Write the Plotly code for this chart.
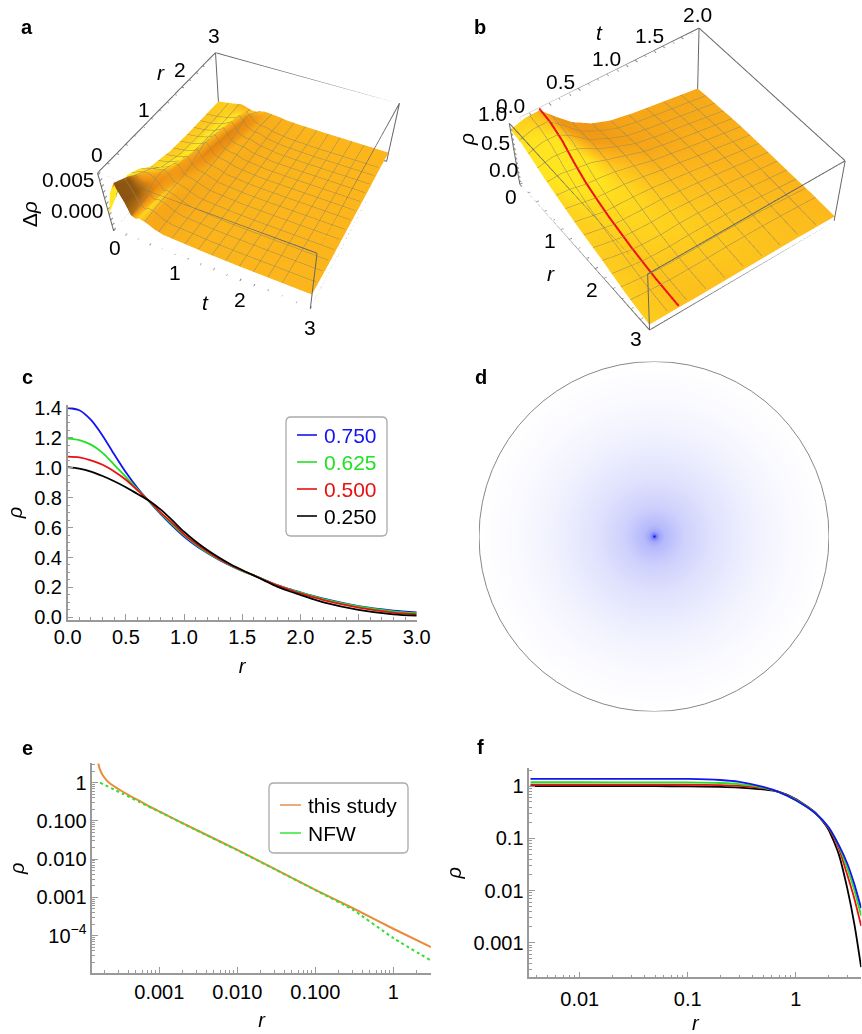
import numpy as np
import plotly.graph_objects as go

W, H = 862, 1034
FONT = "Liberation Sans"
TICK = 20
AXC = "#9a9a9a"

# ---- panel a (x=t, y=r); each row's t positions follow the groove g(r)
a_r = [0, .25, .5, .75, 1, 1.5, 2, 2.5, 3]
a_g = [.42, .44, .46, .5, .54, .62, .7, .77, .82]
a_z = [
 [-.9, 3.6, 5.6, 4.8, 2.6, .6, .3, .6, .3, -.4, -.8, -1.1, -1.2, -1.2],
 [.8, 3.6, 4.6, 4.2, 2.4, .9, .3, .7, .4, -.4, -.8, -1.2, -1.3, -1.3],
 [1.9, 2.7, 3.0, 2.9, 2.2, 1.2, .3, .6, .3, -.4, -.9, -1.3, -1.4, -1.5],
 [1.0, 1.6, 1.9, 2.0, 2.0, 1.5, .4, .4, .1, -.5, -1.0, -1.4, -1.5, -1.6],
 [-.6, -.1, .5, .9, 1.7, 1.7, .5, .1, -.1, -.6, -1.1, -1.5, -1.6, -1.7],
 [-1.6, -1.3, -.9, -.2, 1.0, 1.6, .6, -.3, -.6, -.8, -1.3, -1.7, -1.8, -1.9],
 [-2.0, -1.7, -1.2, -.4, .8, 1.5, .6, -.4, -.8, -.9, -1.4, -1.9, -2.0, -2.1],
 [-2.2, -2.0, -1.5, -.6, .4, 1.0, .4, -.5, -1.0, -1.1, -1.6, -2.0, -2.2, -2.2],
 [-2.4, -2.0, -1.6, -2.2, -2.1, -1.9, -1.7, -1.7, -1.8, -1.9, -2.1, -2.2, -2.3, -2.4],
]
a_z = [[v * 1e-3 for v in row] for row in a_z]
a_zrange = [-.0041, .0063]


def a_row_t(g):
    return [0, .3 * g, .55 * g, g - .18, g - .09, g - .03, g + .04, g + .1, g + .2, g + .32, g + .45, 1.5, 2, 3]


# ---- panel b (x=r, y=t)
b_t = [0, .15, .3, .45, .6, .8, 1, 1.25, 1.5, 2]
b_r = [0, .25, .5, .75, 1, 1.25, 1.5, 2, 2.5, 3]
b_z = [
 [.87, .95, .96, .68, .42, .19, .05, -.04, -.105, -.235],
 [.83, .91, .91, .675, .415, .22, .08, -.01, -.08, -.21],
 [.71, .79, .78, .64, .43, .25, .10, .01, -.05, -.20],
 [.58, .61, .56, .51, .39, .26, .13, .04, -.04, -.18],
 [.48, .45, .38, .36, .32, .23, .13, .05, -.03, -.17],
 [.38, .32, .26, .24, .23, .18, .12, .05, -.03, -.17],
 [.285, .22, .155, .15, .14, .13, .08, .025, -.04, -.17],
 [.13, .06, 0, -.02, -.03, -.01, -.01, -.04, -.08, -.18],
 [-.05, -.08, -.11, -.13, -.13, -.13, -.12, -.12, -.13, -.18],
 [-.17, -.17, -.17, -.18, -.18, -.18, -.18, -.18, -.18, -.20],
]
b_zrange = [-.3, 1.0]
b_red_t = 0.3

# ---- panel c
c_r = [0, .1, .2, .3, .4, .5, .6, .7, .8, .9, 1, 1.1, 1.2, 1.3, 1.4, 1.5, 1.6, 1.7, 1.8, 1.9, 2, 2.1, 2.2, 2.5, 2.8, 3]
c_names = ["0.750", "0.625", "0.500", "0.250"]
c_colors = ["#1414f0", "#22e022", "#e81010", "#000000"]
c_blue = [1.40, 1.385, 1.32, 1.215, 1.09, .97, .865, .775, .69, .612, .54, .48, .43, .385, .345, .31, .28, .247, .215, .19, .167, .145, .125, .075, .045, .033]
c_green = [1.195, 1.185, 1.155, 1.10, 1.02, .94, .855, .775, .695, .62, .548, .487, .433, .388, .347, .311, .28, .247, .215, .189, .165, .143, .122, .073, .04, .027]
c_red = [1.075, 1.07, 1.05, 1.02, .975, .92, .85, .778, .70, .63, .555, .494, .44, .392, .35, .313, .28, .246, .213, .186, .16, .137, .115, .065, .032, .02]
c_black = [1.005, .995, .975, .945, .91, .87, .825, .78, .72, .648, .572, .507, .45, .40, .355, .316, .28, .242, .205, .176, .15, .124, .10, .05, .02, .011]
c_series = [c_blue, c_green, c_red, c_black]

# ---- panel e
e_names = ["this study", "NFW"]
e_study_r = [1.65e-4, 1.74e-4, 1.91e-4, 2.33e-4, 3.13e-4, 4.2e-4, 5.66e-4, 7.6e-4, 1e-3, 1.37e-3, 3e-3, 1e-2, .03, .1, .3, 1, 3.04]
e_study = [3.2, 2.15, 1.5, .95, .645, .455, .33, .235, .177, .128, .058, .0175, .0056, .00158, 5.3e-4, 1.52e-4, 5.06e-5]
e_nfw_r = [1.74e-4, 3.45e-4, 5.66e-4, 1.12e-3, 3e-3, 1e-2, .03, .1, .3, 1, 3.04]
e_nfw = [1.0, .507, .307, .155, .057, .0172, .0055, .00156, 4.8e-4, 8.7e-5, 2.24e-5]

# ---- panel f
f_r = [.0035, .01, .05, .1, .2, .3, .5, .7, 1, 1.5, 2, 2.5, 3, 3.5, 4.03]
f_blue = [1.39, 1.39, 1.39, 1.385, 1.32, 1.215, .97, .775, .54, .31, .167, .075, .033, .013, .0046]
f_green = [1.195, 1.195, 1.19, 1.185, 1.155, 1.10, .94, .775, .548, .31, .165, .073, .027, .010, .0033]
f_red = [1.075, 1.075, 1.075, 1.07, 1.05, 1.02, .92, .778, .555, .315, .16, .065, .02, .0068, .0021]
f_black = [1.005, 1.005, 1.005, .995, .975, .945, .87, .78, .572, .32, .15, .05, .011, .0022, .00034]
f_series = [f_black, f_red, f_green, f_blue]
f_colors = ["#000000", "#e81010", "#22e022", "#1414f0"]

# ---- panel d: radial profile of the disc
d_rad = [0, .006, .012, .03, .06, .17, .34, .57, .8, 1]
d_val = [1, .8, .55, .38, .3, .2, .125, .06, .02, 0]


def fx(px):
    return px / W


def fy(px):
    return 1 - px / H


def dom_x(a, b):
    return [fx(a), fx(b)]


def dom_y(top, bottom):
    return [fy(bottom), fy(top)]


def cam(ex, ey, ez, cx, cy, cz):
    return dict(eye=dict(x=ex, y=ey, z=ez), center=dict(x=cx, y=cy, z=cz),
                up=dict(x=0, y=0, z=1), projection=dict(type="perspective"))


def box_edges(xr, yr, zr):
    xs, ys, zs = [], [], []
    for a in xr:
        for b in yr:
            xs += [a, a, None]; ys += [b, b, None]; zs += [zr[0], zr[1], None]
    for a in xr:
        for c in zr:
            xs += [a, a, None]; ys += [yr[0], yr[1], None]; zs += [c, c, None]
    for b in yr:
        for c in zr:
            xs += [xr[0], xr[1], None]; ys += [b, b, None]; zs += [c, c, None]
    return xs, ys, zs


def tick_segs(vals, base, axis, direction, length):
    xs, ys, zs = [], [], []
    for v in vals:
        p = list(base)
        p[axis] = v
        q = list(p)
        q[direction[0]] = p[direction[0]] + length
        xs += [p[0], q[0], None]; ys += [p[1], q[1], None]; zs += [p[2], q[2], None]
    return xs, ys, zs


def steps(lo, hi, d):
    n = int(round((hi - lo) / d))
    return [lo + i * d for i in range(n + 1)]


shade_cs = [[0, "#8a5410"], [.25, "#ee9012"], [.5, "#fcb71c"], [.75, "#ffe31f"], [1, "#ffe81f"]]
mesh = "#9a8a5a"
A_ASP = (1, 1.0349, .3668)
B_ASP = (1, .9986, .3626)
OFF = dict(ambient=1, diffuse=0, specular=0, roughness=1, fresnel=0)

fig = go.Figure()

# a: surface on a sheared grid, colour index from the slope in box units
a_x2d = np.array([a_row_t(g) for g in a_g])
a_y2d = np.array([[r] * a_x2d.shape[1] for r in a_r])
az = np.array(a_z)
zb = (az - a_zrange[0]) / (a_zrange[1] - a_zrange[0]) * A_ASP[2]
dzdt = np.array([np.gradient(zb[i], a_x2d[i] / 3) for i in range(len(a_r))])
dzdr = np.gradient(zb, np.array(a_r) / 3, axis=0) - dzdt * np.gradient(a_x2d / 3, np.array(a_r) / 3, axis=0)
a_shade = np.clip(.5 + np.where(dzdt > 0, .7, .2) * dzdt + .1 * dzdr, 0, 1)
fig.add_trace(go.Surface(
    x=a_x2d, y=a_y2d, z=a_z, surfacecolor=a_shade, cmin=0, cmax=1,
    colorscale=shade_cs, showscale=False, scene="scene", hoverinfo="skip", lighting=OFF,
    contours=dict(
        x=dict(show=True, start=.2, end=2.8, size=.2, color=mesh, width=1),
        y=dict(show=True, start=.2, end=2.8, size=.2, color=mesh, width=1),
    ),
))

# b
bz = np.array(b_z).T
zb = (bz - b_zrange[0]) / (b_zrange[1] - b_zrange[0]) * B_ASP[2]
b_dx = np.gradient(zb, np.array(b_r) / 3, axis=1)
b_dy = np.gradient(zb, np.array(b_t) / 2, axis=0)
b_shade = np.clip(.5 - .65 * b_dx + .25 * b_dy, 0, 1)
fig.add_trace(go.Surface(
    x=b_r, y=b_t, z=bz.tolist(), surfacecolor=b_shade, cmin=0, cmax=1,
    colorscale=shade_cs, showscale=False, scene="scene2", hoverinfo="skip", lighting=OFF,
    contours=dict(
        x=dict(show=True, start=.2, end=2.8, size=.2, color=mesh, width=1),
        y=dict(show=True, start=.2, end=1.8, size=.2, color=mesh, width=1),
    ),
))

idx = b_t.index(b_red_t)
fig.add_trace(go.Scatter3d(
    x=b_r, y=[b_red_t] * len(b_r), z=[row[idx] + .035 for row in b_z], mode="lines",
    line=dict(color="#f01010", width=4), scene="scene2", hoverinfo="skip", showlegend=False))

LINE3D = "#666666"
for sc, xr, yr, zr, tk in [
    ("scene", [0, 3], [0, 3], a_zrange, [
        (steps(0, 3, .2), [0, 0, a_zrange[0]], 0, (1,), .04),
        (steps(0, 3, .2), [0, 0, a_zrange[1]], 1, (0,), .04),
        (steps(-.004, .006, .001), [0, 0, 0], 2, (1,), .05),
    ]),
    ("scene2", [0, 3], [0, 2], b_zrange, [
        (steps(0, 3, .2), [0, 0, b_zrange[0]], 0, (1,), .03),
        (steps(0, 2, .1), [0, 0, b_zrange[1]], 1, (0,), .05),
        (steps(-.3, 1.0, .1), [0, 0, 0], 2, (0,), .05),
    ]),
]:
    bx, by, bzz = box_edges(xr, yr, zr)
    fig.add_trace(go.Scatter3d(x=bx, y=by, z=bzz, mode="lines", scene=sc, hoverinfo="skip",
                               line=dict(color=LINE3D, width=2), showlegend=False))
    tx, ty, tz = [], [], []
    for vals, base, ax, dr, ln in tk:
        s = tick_segs(vals, base, ax, dr, ln)
        tx += s[0]; ty += s[1]; tz += s[2]
    fig.add_trace(go.Scatter3d(x=tx, y=ty, z=tz, mode="lines", scene=sc, hoverinfo="skip",
                               line=dict(color="#888888", width=2), showlegend=False))


def lab(x, y, z, text, dx=0, dy=0, size=TICK + 1, angle=0):
    return dict(x=x, y=y, z=z, text=text, showarrow=False, xshift=dx, yshift=dy, textangle=angle,
                font=dict(family=FONT, size=size, color="#000"))


a_labels = [
    lab(0, 0, a_zrange[0], "0", 1, -17),
    lab(1, 0, a_zrange[0], "1", 1, -17),
    lab(2, 0, a_zrange[0], "2", 0, -19),
    lab(3, 0, a_zrange[0], "3", 0, -19),
    lab(0, 0, a_zrange[1], "0", -1, 18),
    lab(0, 1, a_zrange[1], "1", 1, 17),
    lab(0, 2, a_zrange[1], "2", -2, 18),
    lab(0, 3, a_zrange[1], "3", -1, 17),
    lab(0, 0, .005, "0.005", -31, 1),
    lab(0, 0, .0, "0.000", -30, -1),
    lab(1.6, 0, a_zrange[0], "<i>t</i>", -8, -32),
    lab(0, 2.1, a_zrange[1], "<i>r</i>", -24, 11),
    lab(0, 0, .001, "Δ<i>ρ</i>", -77, -10, angle=-90),
]
b_labels = [
    lab(0, 0, b_zrange[0], "0", -9, -12),
    lab(1, 0, b_zrange[0], "1", -11, -10),
    lab(2, 0, b_zrange[0], "2", -12, -11),
    lab(3, 0, b_zrange[0], "3", -14, -8),
    lab(0, 0, b_zrange[1], "0.0", 1, 18),
    lab(0, .5, b_zrange[1], "0.5", 2, 17),
    lab(0, 1, b_zrange[1], "1.0", -1, 16),
    lab(0, 1.5, b_zrange[1], "1.5", -4, 15),
    lab(0, 2, b_zrange[1], "2.0", -2, 14),
    lab(0, 0, 1.0, "1.0", -17, 10),
    lab(0, 0, .5, "0.5", -18, 5),
    lab(0, 0, 0, "0.0", -14, 1),
    lab(0, .85, b_zrange[1], "<i>t</i>", 7, 49),
    lab(1.7, 0, b_zrange[0], "<i>r</i>", -40, -10),
    lab(0, 0, .5, "<i>ρ</i>", -47, 8, angle=-90),
]


def scene_cfg(xr, yr, zr, asp, camera, dom, labels):
    ax = dict(visible=False, showbackground=False, showgrid=False, zeroline=False,
              showticklabels=False, showspikes=False, showline=False)
    return dict(
        domain=dom,
        bgcolor="rgba(0,0,0,0)",
        aspectmode="manual",
        aspectratio=dict(x=asp[0], y=asp[1], z=asp[2]),
        xaxis=dict(range=xr, **ax),
        yaxis=dict(range=yr, **ax),
        zaxis=dict(range=zr, **ax),
        camera=camera,
        annotations=labels,
    )


A_H = 585.4508 * .8284
B_H = 1101.9768 * .8284
fig.update_layout(
    width=W, height=H, margin=dict(l=0, r=0, t=0, b=0), paper_bgcolor="white", plot_bgcolor="white",
    showlegend=False, hovermode=False,
    scene=scene_cfg([0, 3], [0, 3], a_zrange, A_ASP, cam(.9125, -1.8689, 1.8668, .1305, -.2731, -.1994),
                    dict(x=dom_x(0, 514), y=dom_y(0, A_H)), a_labels),
    scene2=scene_cfg([0, 3], [0, 2], b_zrange, B_ASP, cam(2.7420, -2.0158, 3.5187, 1.3536, -.9958, .4886),
                     dict(x=dom_x(488, 862), y=dom_y(0, B_H)), b_labels),
)


def axis2d(dom, rng, title, anchor, vals=None, text=None, minor=None, log=False, standoff=6, tls=0):
    d = dict(
        domain=dom, range=rng, anchor=anchor, showgrid=False, zeroline=False, showline=True,
        linecolor=AXC, linewidth=1.5, ticks="inside", ticklen=6, tickcolor=AXC, tickwidth=1,
        tickfont=dict(family=FONT, size=TICK, color="#000"), automargin=False, ticklabelstandoff=tls,
        title=dict(text=title, font=dict(family=FONT, size=TICK, color="#000"), standoff=standoff),
        minor=dict(ticks="inside", ticklen=3, tickcolor=AXC, tickwidth=1, showgrid=False,
                   tickvals=minor),
    )
    if log:
        d["type"] = "log"
    d["tickmode"] = "array"
    d["tickvals"] = vals
    d["ticktext"] = text
    return d


def log_minor(lo, hi):
    return [m * 10.0 ** e for e in range(lo, hi) for m in range(2, 10)]


for ser, col, name in zip(c_series, c_colors, c_names):
    fig.add_trace(go.Scatter(x=c_r, y=ser, mode="lines", name=name,
                             line=dict(color=col, width=1.8, shape="spline", smoothing=.8),
                             xaxis="x", yaxis="y", hoverinfo="skip"))
c_xv = [0, .5, 1, 1.5, 2, 2.5, 3]
c_yv = [0, .2, .4, .6, .8, 1, 1.2, 1.4]
fig.update_layout(
    xaxis=axis2d(dom_x(67.7, 416.7), [0, 3], "<i>r</i>", "y", c_xv, [f"{v:.1f}" for v in c_xv], steps(0, 3, .1), standoff=12, tls=-2),
    yaxis=axis2d(dom_y(405, 620), [-.018, 1.42], "<i>ρ</i>", "x", c_yv, [f"{v:.1f}" for v in c_yv], steps(0, 1.4, .05)),
)

gx = np.linspace(-1, 1, 351)
X, Y = np.meshgrid(gx, gx)
R = np.hypot(X, Y)
Z = np.interp(R, d_rad, d_val)
Z[R > 1] = np.nan
fig.add_trace(go.Heatmap(x=gx, y=gx, z=Z, xaxis="x2", yaxis="y2", showscale=False, hoverinfo="skip",
                         zmin=0, zmax=1, colorscale=[[0, "#ffffff"], [1, "#0a18f0"]]))
hide = dict(visible=False, showgrid=False, zeroline=False)
fig.update_layout(
    xaxis2=dict(domain=dom_x(479, 829), range=[-1, 1], anchor="y2", **hide),
    yaxis2=dict(domain=dom_y(361.5, 711.5), range=[-1, 1], anchor="x2", **hide),
)

fig.add_trace(go.Scatter(x=e_study_r, y=e_study, mode="lines", name=e_names[0], xaxis="x3", yaxis="y3",
                         line=dict(color="#ea8a3a", width=2, shape="spline", smoothing=.5), hoverinfo="skip"))
fig.add_trace(go.Scatter(x=e_nfw_r, y=e_nfw, mode="lines", name=e_names[1], xaxis="x3", yaxis="y3",
                         line=dict(color="#30e030", width=2, dash="3px,3px", shape="spline", smoothing=.5), hoverinfo="skip"))
fig.update_layout(
    xaxis3=axis2d(dom_x(92.3, 431), [-3.859, .483], "<i>r</i>", "y3", [.001, .01, .1, 1],
                  ["0.001", "0.010", "0.100", "1"], log_minor(-4, 1), log=True, standoff=11),
    yaxis3=axis2d(dom_y(763.3, 973), [-4.975, .507], "<i>ρ</i>", "x3", [1e-4, .001, .01, .1, 1],
                  ["10<sup>−4</sup>", "0.001", "0.010", "0.100", "1"], log_minor(-5, 1), log=True),
)

for ser, col in zip(f_series, f_colors):
    fig.add_trace(go.Scatter(x=f_r, y=ser, mode="lines", xaxis="x4", yaxis="y4",
                             line=dict(color=col, width=1.8, shape="spline", smoothing=.6), hoverinfo="skip"))
fig.update_layout(
    xaxis4=axis2d(dom_x(529.3, 861.3), [-2.467, .607], "<i>r</i>", "y4", [.01, .1, 1],
                  ["0.01", "0.1", "1"], log_minor(-3, 1), log=True, standoff=9, tls=3),
    yaxis4=axis2d(dom_y(768.3, 977.3), [-3.664, .345], "<i>ρ</i>", "x4", [.001, .01, .1, 1],
                  ["0.001", "0.01", "0.1", "1"], log_minor(-4, 1), log=True),
)


def rounded(x0, y0, x1, y1, r):
    X0, X1 = fx(x0), fx(x1)
    Y0, Y1 = fy(y0), fy(y1)
    rx, ry = r / W, r / H
    return (f"M{X0 + rx},{Y0} L{X1 - rx},{Y0} Q{X1},{Y0} {X1},{Y0 - ry} L{X1},{Y1 + ry} Q{X1},{Y1} {X1 - rx},{Y1} "
            f"L{X0 + rx},{Y1} Q{X0},{Y1} {X0},{Y1 + ry} L{X0},{Y0 - ry} Q{X0},{Y0} {X0 + rx},{Y0} Z")


shapes = [
    dict(type="circle", xref="x2", yref="y2", x0=-1, x1=1, y0=-1, y1=1, line=dict(color="#888888", width=1)),
    dict(type="path", xref="paper", yref="paper", path=rounded(286, 417, 387, 536, 5),
         line=dict(color="#aaaaaa", width=1.3), fillcolor="white"),
    dict(type="path", xref="paper", yref="paper", path=rounded(269, 783, 408, 853, 5),
         line=dict(color="#aaaaaa", width=1.3), fillcolor="white"),
]
texts = []


def ptext(x, y, t, size=TICK + 1, color="#000", anchor="left", bold=False):
    texts.append(dict(x=fx(x), y=fy(y), xref="paper", yref="paper", text=f"<b>{t}</b>" if bold else t,
                      showarrow=False, xanchor=anchor, yanchor="middle",
                      font=dict(family=FONT, size=size, color=color)))


for i, (name, col) in enumerate(zip(c_names, c_colors)):
    yy = 435 + i * 27
    shapes.append(dict(type="line", xref="paper", yref="paper", x0=fx(297), x1=fx(317), y0=fy(yy), y1=fy(yy),
                       line=dict(color=col, width=1.6)))
    ptext(322, yy, name, color=col)
for name, col, yy in zip(e_names, ["#e8965a", "#40e840"], [805, 833]):
    shapes.append(dict(type="line", xref="paper", yref="paper", x0=fx(280), x1=fx(301), y0=fy(yy), y1=fy(yy),
                       line=dict(color=col, width=1.6)))
    ptext(306, yy, name)
for t, x, y in [("a", 27, 27), ("b", 480, 27), ("c", 27, 377), ("d", 481, 377), ("e", 27, 748), ("f", 480, 747)]:
    ptext(x, y, t, size=20, anchor="center", bold=True)
fig.update_layout(shapes=shapes, annotations=texts)

fig.write_html("out.html", config=dict(displayModeBar=False),
               post_script="document.body.style.margin='0';document.documentElement.style.overflow='hidden';")
